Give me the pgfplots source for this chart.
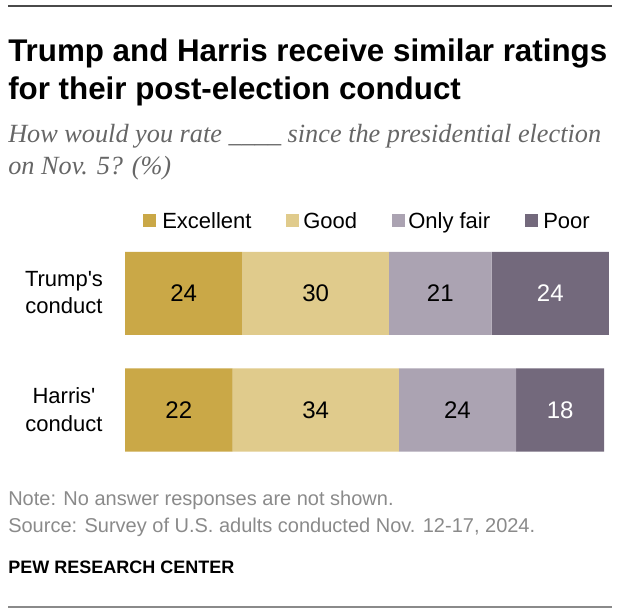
\documentclass[border=0pt]{standalone}
\usepackage{fontspec}
\setmainfont{Liberation Sans}
\newfontfamily\subfont{Liberation Serif}
\usepackage{pgfplots}
\usepackage{pgfplotstable}
\pgfplotsset{compat=1.18}

\definecolor{excellent}{HTML}{CAA847}
\definecolor{good}{HTML}{E0CB8C}
\definecolor{onlyfair}{HTML}{ABA3B2}
\definecolor{poor}{HTML}{73697C}
\definecolor{subgray}{HTML}{666666}
\definecolor{notegray}{HTML}{8A8A8A}
\definecolor{topline}{HTML}{4A4A4A}

% y = 0 Harris, y = 1 Trump
\pgfplotstableread{
y Excellent Good Fair Poor
0 22 34 24 18
1 24 30 21 24
}\ratings

\begin{document}
\begin{tikzpicture}[x=0.75pt,y=0.75pt]
\path[use as bounding box] (0,0) rectangle (620,614);
\draw[line width=1.1pt, topline] (8,608) -- (612,608);

% title and subtitle
\node[anchor=base west, inner sep=0] at (8,552) {\fontsize{23.5}{28}\selectfont\bfseries Trump and Harris receive similar ratings};
\node[anchor=base west, inner sep=0] at (8,514) {\fontsize{23.5}{28}\selectfont\bfseries for their post-election conduct};
\node[anchor=base west, inner sep=0, subgray] at (8,471) {\subfont\itshape\fontsize{19.7}{23}\selectfont How would you rate \_\_\_\_ since the presidential election};
\node[anchor=base west, inner sep=0, subgray] at (8,439) {\subfont\itshape\fontsize{19.7}{23}\selectfont on Nov. 5? (\%)};

% legend
\fill[excellent] (143,387) rectangle (156,400);
\node[anchor=base west, inner sep=0] at (162,385) {\fontsize{16.5}{20}\selectfont Excellent};
\fill[good] (286,387) rectangle (299,400);
\node[anchor=base west, inner sep=0] at (303,385) {\fontsize{16.5}{20}\selectfont Good};
\fill[onlyfair] (392,387) rectangle (405,400);
\node[anchor=base west, inner sep=0] at (408,385) {\fontsize{16.5}{20}\selectfont Only fair};
\fill[poor] (525,387) rectangle (538,400);
\node[anchor=base west, inner sep=0] at (543,385) {\fontsize{16.5}{20}\selectfont Poor};

% row labels
\node[anchor=base, inner sep=0] at (64,327) {\fontsize{16.5}{20}\selectfont Trump\textquotesingle s};
\node[anchor=base, inner sep=0] at (64,300) {\fontsize{16.5}{20}\selectfont conduct};
\node[anchor=base, inner sep=0] at (64,210) {\fontsize{16.5}{20}\selectfont Harris\textquotesingle};
\node[anchor=base, inner sep=0] at (64,183) {\fontsize{16.5}{20}\selectfont conduct};

\begin{axis}[
  at={(93.75pt,109.3125pt)}, anchor=south west,
  scale only axis,
  width=363pt, height=174.75pt,
  xbar stacked,
  bar width=62.25pt,
  xmin=0, xmax=99,
  ymin=-0.5, ymax=1.5,
  hide axis,
  clip=false,
  nodes near coords={\pgfmathprintnumber[assume math mode=true]{\segval}},
  every node near coord/.append style={
    anchor=center,
    font=\fontsize{18}{21}\selectfont,
    text=black
  },
]
\addplot[fill=excellent, draw=none,
  visualization depends on={\thisrow{Excellent}\as\segval}]
  table[x=Excellent, y=y] {\ratings};
\addplot[fill=good, draw=none,
  visualization depends on={\thisrow{Good}\as\segval}]
  table[x=Good, y=y] {\ratings};
\addplot[fill=onlyfair, draw=none,
  visualization depends on={\thisrow{Fair}\as\segval}]
  table[x=Fair, y=y] {\ratings};
\addplot[fill=poor, draw=none,
  visualization depends on={\thisrow{Poor}\as\segval},
  every node near coord/.append style={text=white}]
  table[x=Poor, y=y] {\ratings};
\end{axis}

% notes
\node[anchor=base west, inner sep=0, notegray] at (8,109) {\fontsize{15}{18}\selectfont Note: No answer responses are not shown.};
\node[anchor=base west, inner sep=0, notegray] at (8,82) {\fontsize{15}{18}\selectfont Source: Survey of U.S. adults conducted Nov. 12-17, 2024.};
\node[anchor=base west, inner sep=0] at (8,41) {\fontsize{13.5}{17}\selectfont\bfseries PEW RESEARCH CENTER};
\draw[line width=1.5pt, notegray] (8,7) -- (612,7);
\end{tikzpicture}
\end{document}
